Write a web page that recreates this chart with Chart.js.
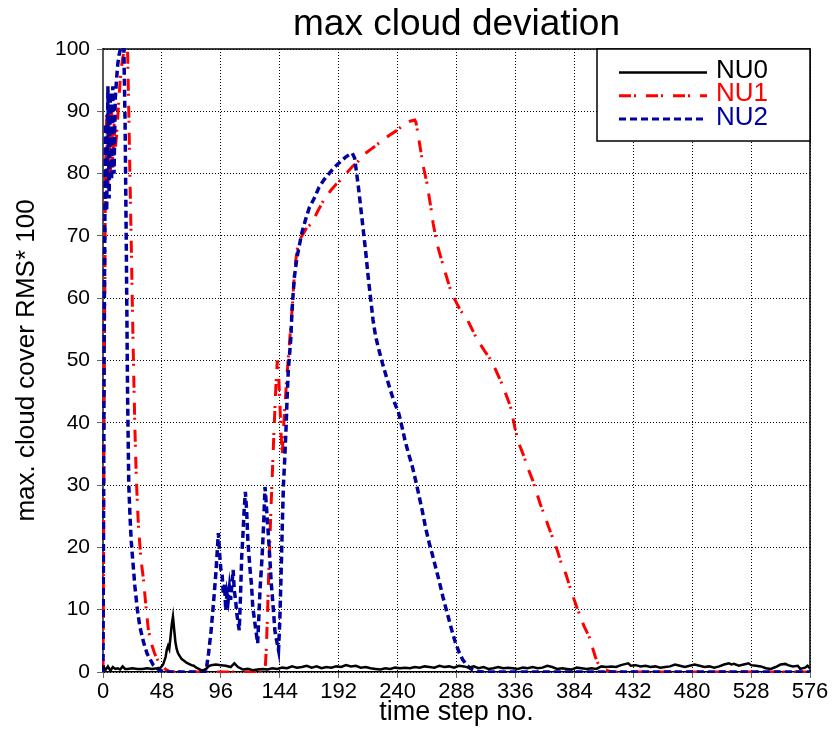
<!DOCTYPE html>
<html>
<head>
<meta charset="utf-8">
<script src="https://cdn.jsdelivr.net/npm/chart.js@4/dist/chart.umd.min.js"></script>
<style>
  html, body { margin: 0; padding: 0; background: #fff; }
  #c { display: block; }
</style>
</head>
<body>
<canvas id="c" width="834" height="729"></canvas>
<script>
// ---------------- data ----------------
const chartTitle = 'max cloud deviation';
const xTitle = 'time step no.';
const yTitle = 'max. cloud cover RMS* 100';
const seriesNames = ['NU0', 'NU1', 'NU2'];
const xTicksMin = 0, xTicksMax = 576, xTickStep = 48;
const yTicksMin = 0, yTicksMax = 100, yTickStep = 10;

const nu0T = [0,2,4,6,8,10,12,14,16,18,20,24,28,32,36,40,44,47,49,51,52,53,54,55,56,57,58,59,60,61,62,64,66,68,70,72,74,76,78,80,82,84,86,88,92,96,100,104,107,110,114,118,122,126,130,134,138,142,146,150,154,158,162,166,170,174,178,182,186,190,194,198,202,206,210,214,218,222,226,230,234,238,242,246,250,254,258,262,266,270,274,278,282,286,290,294,298,302,306,310,314,318,322,326,330,334,338,342,346,350,354,358,362,366,370,374,378,382,386,390,394,398,402,406,410,414,418,422,426,428,430,434,438,442,446,450,454,458,462,466,470,474,478,482,486,490,494,498,502,506,510,512,514,518,522,526,528,532,536,540,544,548,552,556,558,562,566,568,572,574,576];
const nu0V = [1.0,0.3,0.9,0.2,0.8,0.5,0.6,0.4,0.9,0.5,0.5,0.6,0.5,0.5,0.6,0.5,0.6,0.7,1.2,2.4,3.6,4.2,3.7,5.6,7.6,8.9,6.8,4.8,3.7,3.1,2.7,2.1,1.8,1.5,1.3,1.1,1.0,0.7,0.5,0.3,0.3,0.5,0.9,1.1,1.2,1.1,1.0,0.8,1.4,0.8,0.4,0.5,0.3,0.4,0.5,0.4,0.6,0.5,0.7,0.6,0.9,0.7,0.8,1.0,0.7,0.9,0.6,0.8,0.7,0.9,0.8,1.1,0.9,1.0,0.7,0.8,0.6,0.5,0.4,0.6,0.5,0.7,0.6,0.7,0.6,0.8,0.7,0.9,0.8,0.7,1.0,0.8,0.9,0.7,1.0,0.9,0.7,0.9,0.6,0.8,0.5,0.6,0.8,0.6,0.7,0.6,0.5,0.7,0.6,0.8,0.6,0.7,1.0,0.8,0.5,0.6,0.5,0.4,0.7,0.6,0.5,0.6,0.5,0.9,0.8,0.9,0.8,1.1,1.3,1.4,1.0,1.1,0.9,1.0,0.8,0.9,0.7,0.8,0.9,1.2,1.0,0.8,1.0,1.2,1.0,0.8,0.9,0.7,0.9,1.2,1.4,1.2,1.3,1.0,1.2,1.4,1.1,1.0,0.9,0.6,0.5,0.8,1.2,1.3,1.1,0.9,1.0,0.5,0.7,1.0,0.6];

const nu1T = [0,1,2,3,4,5,6,7,8,9,10,11,12,13,14,15,16,17,18,19,20,21,22,23,24,25,26,27,28,29,30,31,33,35,37,40,42,44,46,49,52,55,132,133,134,135,136,137,138,139,140,141,142,143,144,145,146,147,148,149,150,151,152,153,154,155,156,157,159,162,166,170,175,180,186,190,195,199,203,208,212,219,226,233,240,246,250,254,255,257,259,261,264,267,269,272,275,279,284,291,297,305,311,317,321,325,329,332,336,339,343,346,350,353,356,360,363,367,370,373,377,380,383,386,389,392,396,399,401,403,405,408,411,414,576];
const nu1V = [0,45,80,90,77,91,79,90,81,88,84,86,89,92,95,97,98.5,99.5,100.3,100.5,100,90,79,69,58,48,39,32,27,23,20.5,18,14.8,10.5,6.7,4.2,3.0,2.1,1.4,0.7,0.3,0,0,3.5,9,15.8,21.5,27,32,37.2,42,46.5,50,48,43.7,38.5,34.6,38.8,42,45,48,50.5,53,55.5,58,61,64,66,68.8,70,71.3,72,74,75.8,77.4,78.3,79.2,80.2,81.1,82,83,84,85.1,86.1,87,88.1,88.4,88.6,88.2,85.9,83.5,81.1,78.4,74.7,72,68.8,66.7,64,60.8,58.1,56.5,53.3,51.5,49.8,48,46.3,44.2,42.6,38.8,36.6,34.6,32.8,30.8,29,27.1,25,23.3,21.2,19.6,17.7,15.8,13.9,12.1,10.4,8.9,7.3,5.7,3.8,2.5,1.5,0.9,0.5,0.2,0,0];

const nu2T = [0,1,2,3,4,5,6,7,8,9,10,11,12,13,14,15,16,17,18,19,20,21,22,23,24,26,28,30,33,36,41,46,50,83,84,86,88,90,92,94,95,96,97,98,99,100,101,102,103,104,105,106,107,108,109,110,111,112,113,114,115,116,117,118,119,120,121,122,124,126,127,128,129,130,131,132,133,134,135,136,137,138,139,140,141,142,143,144,145,146,147,148,149,150,151,152,153,154,155,156,157,158,160,162,165,168,172,176,180,185,189,194,198,201,203,205,206,208,210,212,214,216,218,220,222,224,226,228,231,234,237,241,244,246,249,252,255,257,260,263,266,268,271,274,277,279,282,284,287,290,293,296,299,302,305,310,576];
const nu2V = [0,55,88,74,94,76,93,79,94,80,92,95,97.5,99,99.8,100.3,100.5,100,88,68,45,30,25,21,18.5,13.7,10,7.3,4.8,2.9,1.1,0.3,0,0,0.2,3,6.5,11,16,22.3,19,16.5,15.8,12.5,14,9.9,12.6,11.5,13.5,11.6,14,16.4,13,11.6,9.4,8,6.7,12,18.5,22,26,28.9,26,21.2,18.5,16,14,10.5,7.5,4.6,9,13.5,16.5,20,24.4,29.7,27,24,21.2,18,14.5,12,9.5,6.7,5.5,4.5,3.5,8,15,23,30,34,38.5,44,48.5,51,53.5,58,61,63.5,65,66.5,68.5,70.5,72.6,74.5,76,77.8,79,80.2,81.1,82,82.7,83.1,83.3,82.5,81,78,74.5,71,67.5,63.5,60,56.5,54,52.3,50.8,49.3,47.3,45.3,43.5,41.5,39,37.2,35,33,30.5,28.7,26,23,20.5,19.1,16.8,14.5,12,10.5,8.3,6.8,4.8,3.2,2,1.2,0.6,0.3,0.1,0,0];

const seriesColors = ['#000000', '#ff0000', '#0000a0'];

// ---------------- helpers ----------------
function toPoints(ts, vs) { return ts.map((t, i) => ({ x: t, y: vs[i] })); }
const FONT = "'Liberation Sans', Arial, Helvetica, sans-serif";

const styles = [
  { borderWidth: 2.5, borderDash: [], order: 0 },
  { borderWidth: 3, borderDash: [12, 3, 2, 10], order: 2 },
  { borderWidth: 3.5, borderDash: [7, 4], order: 1 }
];
const seriesData = [toPoints(nu0T, nu0V), toPoints(nu1T, nu1V), toPoints(nu2T, nu2V)];

const datasets = seriesNames.map((name, i) => ({
  label: name,
  data: seriesData[i],
  borderColor: seriesColors[i],
  backgroundColor: seriesColors[i],
  borderWidth: styles[i].borderWidth,
  borderDash: styles[i].borderDash,
  order: styles[i].order,
  pointRadius: 0,
  tension: 0,
  fill: false,
  clip: 1
}));

// plot frame (top & right) plugin
const framePlugin = {
  id: 'frame',
  beforeDatasetsDraw(chart) {
    const a = chart.chartArea, ctx = chart.ctx;
    ctx.save();
    ctx.strokeStyle = '#000';
    ctx.lineWidth = 1.5;
    ctx.setLineDash([]);
    ctx.beginPath();
    ctx.moveTo(a.left, a.top);
    ctx.lineTo(a.right, a.top);
    ctx.lineTo(a.right, a.bottom);
    ctx.stroke();
    ctx.restore();
  }
};

// boxed legend inside top-right corner
const boxLegend = {
  id: 'boxLegend',
  afterDraw(chart) {
    const a = chart.chartArea, ctx = chart.ctx;
    const w = 213, h = 92;
    const left = a.right - w, top = a.top;
    ctx.save();
    ctx.fillStyle = '#fff';
    ctx.fillRect(left, top, w, h);
    ctx.strokeStyle = '#000';
    ctx.lineWidth = 1.5;
    ctx.setLineDash([]);
    ctx.strokeRect(left, top, w, h);
    ctx.font = '26px ' + FONT;
    ctx.textBaseline = 'middle';
    ctx.textAlign = 'left';
    chart.data.datasets.forEach((ds, i) => {
      const ly = top + 23.5 + i * 23.3;
      ctx.strokeStyle = ds.borderColor;
      ctx.lineWidth = Math.min(ds.borderWidth, 3);
      ctx.setLineDash(ds.borderDash || []);
      ctx.beginPath();
      ctx.moveTo(left + 22, ly);
      ctx.lineTo(left + 110, ly);
      ctx.stroke();
      ctx.setLineDash([]);
      ctx.fillStyle = ds.borderColor;
      ctx.fillText(ds.label, left + 119, ly - 1.5);
    });
    ctx.restore();
  }
};

Chart.defaults.font.family = FONT;
Chart.defaults.color = '#000';

new Chart(document.getElementById('c'), {
  type: 'line',
  data: { datasets },
  plugins: [framePlugin, boxLegend],
  options: {
    responsive: false,
    animation: false,
    devicePixelRatio: 1,
    layout: { padding: { left: 0, right: 24, top: 0, bottom: 0 } },
    plugins: {
      legend: { display: false },
      tooltip: { enabled: false },
      title: {
        display: true,
        text: chartTitle,
        fullSize: false,
        color: '#000',
        font: { size: 37, weight: 'normal', family: FONT },
        padding: { top: 3, bottom: 1.6 }
      }
    },
    scales: {
      x: {
        type: 'linear',
        min: xTicksMin,
        max: xTicksMax,
        afterFit(s) { s.height = 57; },
        ticks: {
          stepSize: xTickStep,
          autoSkip: false,
          maxRotation: 0,
          color: '#000',
          padding: 1,
          font: { size: 22, family: FONT }
        },
        grid: {
          color: '#000',
          lineWidth: 1,
          tickLength: 6,
          tickColor: '#666',
          tickWidth: 1,
          tickBorderDash: []
        },
        border: { display: true, color: '#000', width: 1.5, dash: [1, 2] },
        title: {
          display: true,
          text: xTitle,
          color: '#000',
          font: { size: 27, family: FONT },
          padding: { top: 0, bottom: 0 }
        }
      },
      y: {
        min: yTicksMin,
        max: yTicksMax,
        afterFit(s) { s.width = 103; },
        ticks: {
          stepSize: yTickStep,
          autoSkip: false,
          color: '#000',
          padding: 7,
          font: { size: 21, family: FONT }
        },
        grid: {
          color: '#000',
          lineWidth: 1,
          tickLength: 6,
          tickColor: '#666',
          tickWidth: 1,
          tickBorderDash: []
        },
        border: { display: true, color: '#555', width: 2, dash: [1, 2] },
        title: {
          display: true,
          text: yTitle,
          color: '#000',
          font: { size: 26, family: FONT },
          padding: { top: 11, bottom: 0 }
        }
      }
    }
  }
});
</script>
</body>
</html>
